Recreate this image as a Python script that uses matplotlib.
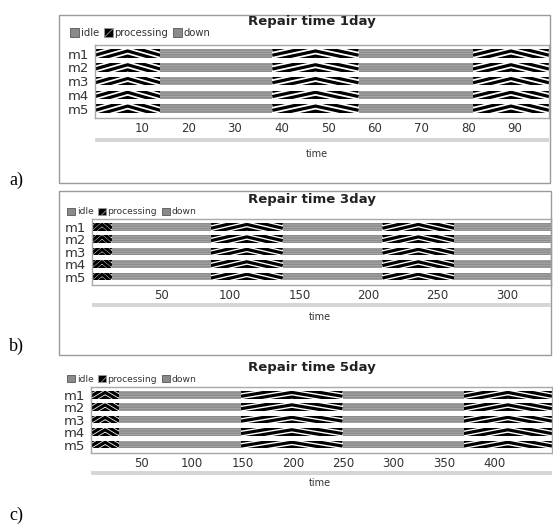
import numpy as np
import matplotlib
matplotlib.use('Agg')
import matplotlib.pyplot as plt
from matplotlib.patches import Patch, Rectangle

# machine rows
machines = ['m1', 'm2', 'm3', 'm4', 'm5']

# segments (same schedule for every machine)
a_start = [0, 14, 38, 56.5, 81]
a_dur = [14, 24, 18.5, 24.5, 16.3]
a_state = ['processing', 'down', 'processing', 'down', 'processing']
a_ticks = [10, 20, 30, 40, 50, 60, 70, 80, 90]

b_start = [0, 14.5, 86, 138, 210, 262]
b_dur = [14.5, 71.5, 52, 72, 52, 70]
b_state = ['processing', 'down', 'processing', 'down', 'processing', 'down']
b_ticks = [50, 100, 150, 200, 250, 300]

c_start = [0, 28, 148.7, 249.4, 369.4]
c_dur = [28, 120.7, 100.7, 120, 87.6]
c_state = ['processing', 'down', 'processing', 'down', 'processing']
c_ticks = [50, 100, 150, 200, 250, 300, 350, 400]

titles = ['Repair time 1day', 'Repair time 3day', 'Repair time 5day']
xmax = [97.3, 332, 457]

W, H = 553, 525
plt.rcParams['hatch.color'] = '#acacac'
plt.rcParams['hatch.linewidth'] = 0.6
fig = plt.figure(figsize=(W / 100, H / 100), dpi=100)


def fx(x):
    return x / W


def fy(y):
    return 1 - y / H


def draw_panel(rect_px, starts, durs, states, ticks, xm, title, title_y,
               legend_xy, legend_fs, time_xy, scroll_y):
    l, r, t, b = rect_px
    ax = fig.add_axes([fx(l), fy(b), fx(r) - fx(l), (b - t) / H])
    rows = np.arange(len(machines))
    h = 0.62
    for s, d, st in zip(starts, durs, states):
        if st == 'processing':
            bars = ax.barh(rows, d, left=s, height=h, color='white',
                           linewidth=0)
            mid = s + d / 2
            xs = np.array([s, mid, s + d])
            hh = 1.1 * h
            step = 0.6 * h
            for i, bar in zip(rows, bars):
                yb = i + h / 2
                for c in np.arange(-h + 0.1 * h, hh + step, step):
                    ys = np.array([yb + c, yb + c - hh, yb + c])
                    ln, = ax.plot(xs, ys, color='black', lw=2.3,
                                  solid_capstyle='butt')
                    ln.set_clip_path(bar)
        else:
            ax.barh(rows, d, left=s, height=h, color='#8c8c8c',
                    hatch='-------', linewidth=0)
    ax.set_xlim(0, xm)
    ax.set_ylim(4.68, -0.62)
    ax.set_yticks(rows)
    ax.set_yticklabels(machines, fontsize=9.5, color='#333333')
    ax.set_xticks(ticks)
    ax.set_xticklabels([str(v) for v in ticks], fontsize=8.5,
                       color='#333333')
    ax.tick_params(length=0, pad=3)
    ax.tick_params(axis='y', pad=4)
    for sp in ax.spines.values():
        sp.set_color('#a8a8a8')
        sp.set_linewidth(1)

    fig.text(fx(312), fy(title_y), title, ha='center', va='center',
             fontsize=9.5, fontweight='bold', color='#222222')

    handles = [Patch(facecolor='#8a8a8a', edgecolor='#555555', lw=0.6),
               Patch(facecolor='black', edgecolor='#999999', hatch='////',
                     lw=0.6),
               Patch(facecolor='#8a8a8a', edgecolor='#555555', lw=0.6)]
    ax.legend(handles, ['idle', 'processing', 'down'], ncol=3,
              loc='center left',
              bbox_to_anchor=(fx(legend_xy[0]), fy(legend_xy[1])),
              bbox_transform=fig.transFigure, frameon=False,
              fontsize=legend_fs, handlelength=0.9, handleheight=0.9,
              handletextpad=0.15, columnspacing=0.5, borderpad=0,
              borderaxespad=0, labelcolor='#333333')

    fig.patches.append(Rectangle((fx(l), fy(scroll_y + 2)), fx(r) - fx(l),
                                 4 / H, transform=fig.transFigure,
                                 facecolor='#d6d6d6', edgecolor='none'))
    fig.text(fx(time_xy[0]), fy(time_xy[1]), 'time', ha='center',
             va='center', fontsize=7, color='#333333')
    return ax


# panel frames
for (x0, y0, x1, y1) in [(59, 15, 550, 183), (59, 191, 551, 355)]:
    fig.patches.append(Rectangle((fx(x0), fy(y1)), fx(x1) - fx(x0),
                                 (y1 - y0) / H, transform=fig.transFigure,
                                 facecolor='none', edgecolor='#9a9a9a',
                                 lw=1))

draw_panel((95, 549, 45, 118), a_start, a_dur, a_state, a_ticks, xmax[0],
           titles[0], 22, (70, 33), 7.2, (317, 154), 140)
draw_panel((92, 551, 219, 285), b_start, b_dur, b_state, b_ticks, xmax[1],
           titles[1], 200, (67, 212), 6.6, (320, 317), 305)
draw_panel((91, 552, 387, 453), c_start, c_dur, c_state, c_ticks, xmax[2],
           titles[2], 368, (67, 379), 6.6, (320, 483), 473)

for lab, y in [('a)', 180), ('b)', 346), ('c)', 515)]:
    fig.text(fx(9), fy(y), lab, ha='left', va='center', fontsize=13,
             family='Liberation Serif')

fig.savefig('out.png', dpi=100)
